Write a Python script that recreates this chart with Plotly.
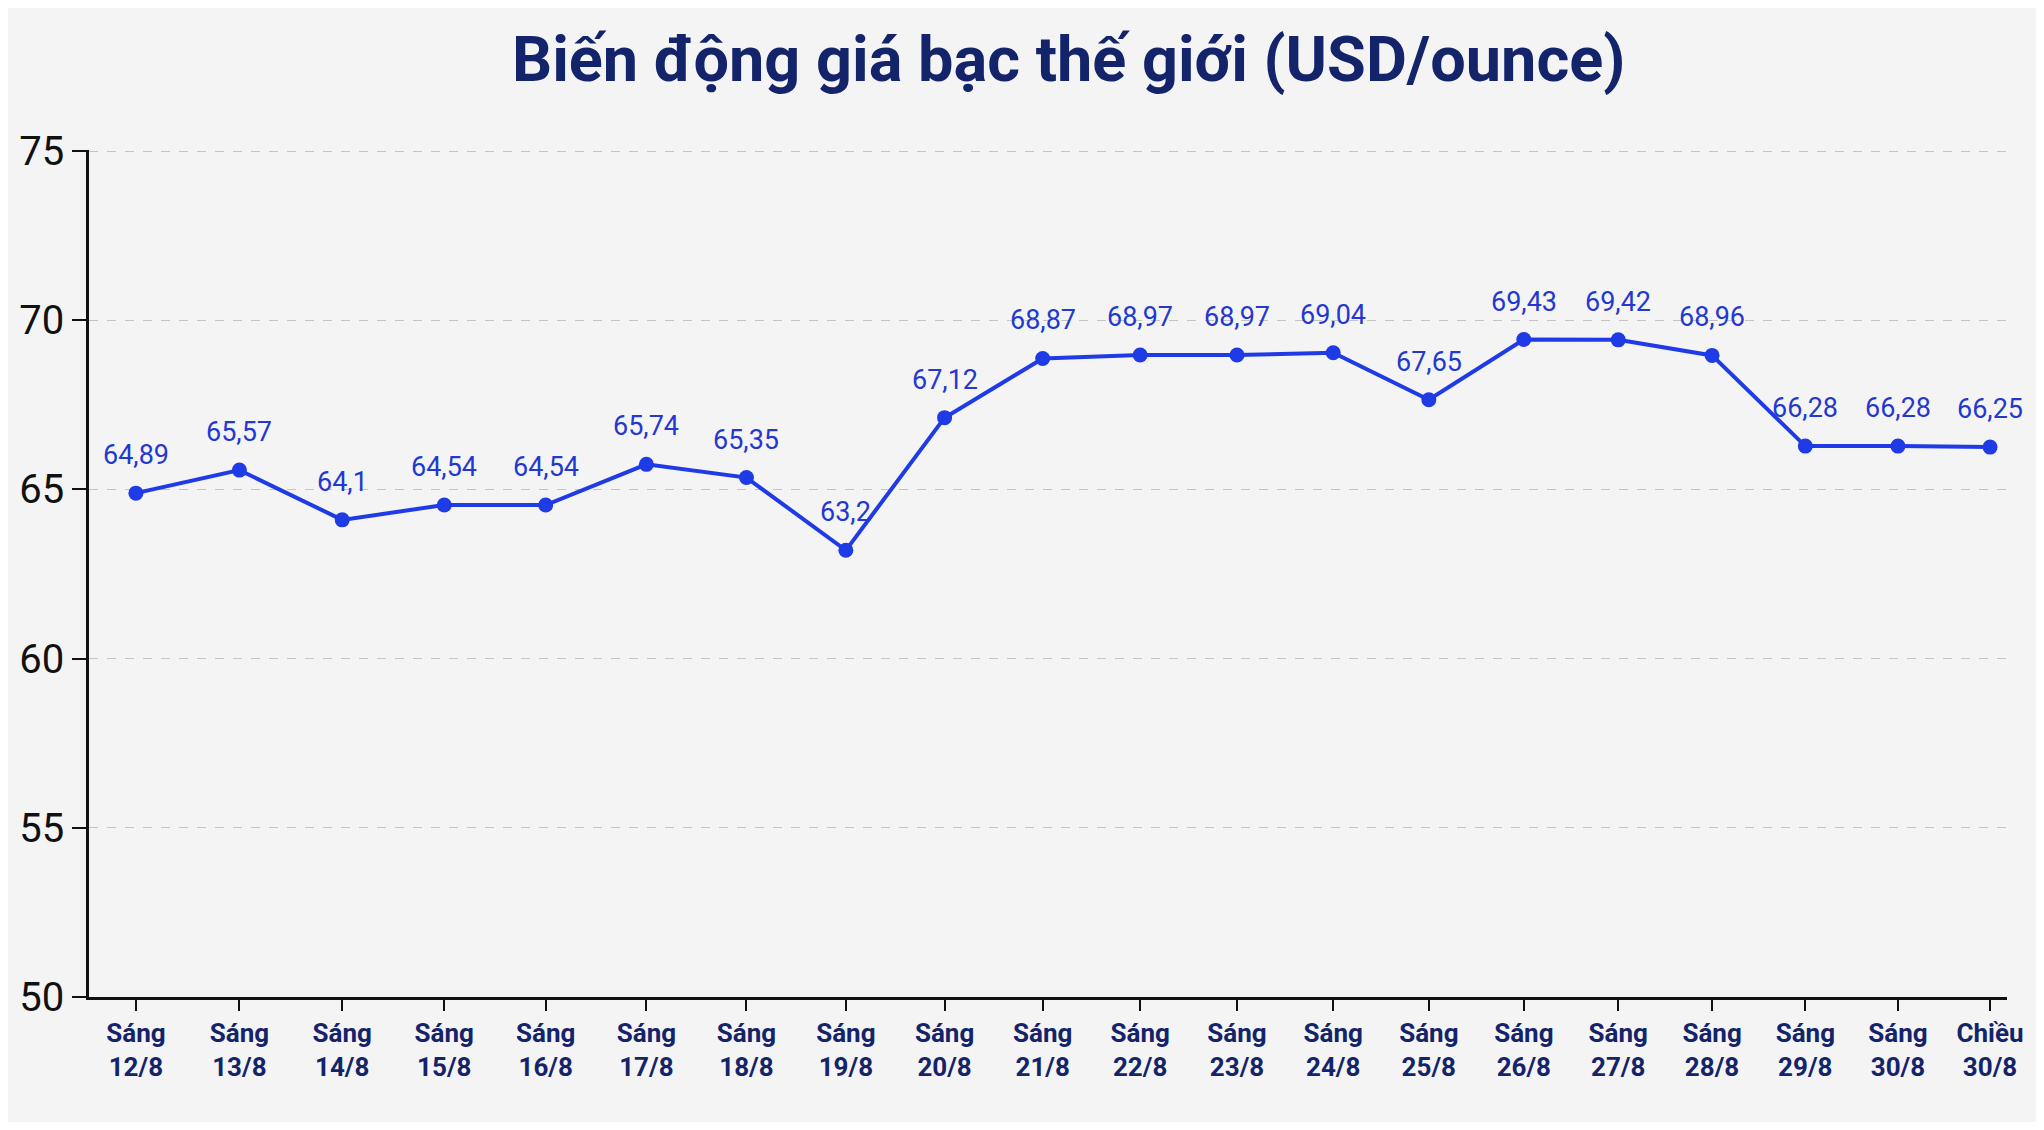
import math
import plotly.graph_objects as go

# Dữ liệu giá bạc thế giới
ngay = ["Sáng<br>12/8", "Sáng<br>13/8", "Sáng<br>14/8", "Sáng<br>15/8", "Sáng<br>16/8",
        "Sáng<br>17/8", "Sáng<br>18/8", "Sáng<br>19/8", "Sáng<br>20/8", "Sáng<br>21/8",
        "Sáng<br>22/8", "Sáng<br>23/8", "Sáng<br>24/8", "Sáng<br>25/8", "Sáng<br>26/8",
        "Sáng<br>27/8", "Sáng<br>28/8", "Sáng<br>29/8", "Sáng<br>30/8", "Chiều<br>30/8"]
gia_bac = [64.89, 65.57, 64.1, 64.54, 64.54, 65.74, 65.35, 63.2, 67.12, 68.87,
           68.97, 68.97, 69.04, 67.65, 69.43, 69.42, 68.96, 66.28, 66.28, 66.25]
y_ticks = [50, 55, 60, 65, 70, 75]

nhan = [str(v).replace(".", ",") for v in gia_bac]

# Hình gốc có khoảng cách cột hơi co dần sang phải -> dùng trục log với chỉ số dịch
LECH = 145
x_idx = [i + LECH for i in range(len(ngay))]
n = len(ngay) - 1
buoc = math.log10((n + LECH) / LECH)
x_min = math.log10(LECH) - 36 / 1423 * buoc
x_max = math.log10(LECH) + 1436 / 1423 * buoc

mau_duong = "#1f3be6"
mau_nhan = "#2438d0"
mau_chu = "#14246b"
nen = "#f4f4f4"

fig = go.Figure()
fig.add_trace(go.Scatter(
    x=x_idx, y=gia_bac,
    mode="lines+markers",
    line=dict(color=mau_duong, width=4),
    marker=dict(color=mau_duong, size=15),
    hoverinfo="skip",
))

# Nhãn giá trị đặt cao hơn điểm một chút
for xi, yi, t in zip(x_idx, gia_bac, nhan):
    fig.add_annotation(
        x=math.log10(xi), y=yi, text=t, showarrow=False,
        xanchor="center", yanchor="bottom", yshift=20,
        font=dict(family="Roboto", size=27, color=mau_nhan),
    )

fig.update_layout(
    width=2028, height=1114,
    margin=dict(l=81, r=29, t=142, b=125),
    paper_bgcolor=nen, plot_bgcolor=nen,
    showlegend=False,
    title=dict(
        text="<b>Biến động giá bạc thế giới (USD/ounce)</b>",
        font=dict(family="Roboto", size=63, color=mau_chu),
        x=0.523, xanchor="center",
        y=0.9546, yref="container", yanchor="middle",
    ),
    xaxis=dict(
        type="log",
        range=[x_min, x_max],
        tickvals=x_idx, ticktext=ngay,
        showgrid=False, zeroline=False,
        showline=True, linecolor="#111", linewidth=2.5,
        ticks="outside", ticklen=11, tickwidth=2, tickcolor="#111",
        tickfont=dict(family="Roboto", size=26, color=mau_chu, weight="bold"),
    ),
    yaxis=dict(
        range=[50, 75.03],
        tickvals=y_ticks,
        showgrid=True, gridcolor="#c4c4c4", griddash="dash", gridwidth=1.2,
        zeroline=False,
        showline=True, linecolor="#111", linewidth=2.5,
        ticks="outside", ticklen=14, tickwidth=2, tickcolor="#111",
        tickfont=dict(family="Roboto", size=40, color="#111"),
    ),
)

fig.write_html("out.html")
